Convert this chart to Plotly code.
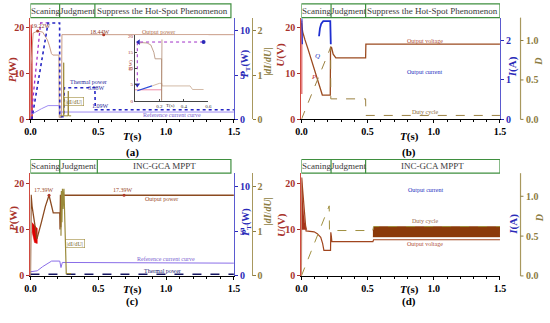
import plotly.graph_objects as go

W, H = 550, 323
def px(x): return x / W
def py(y): return 1 - y / H

FONT = "Liberation Serif"
C_LEFT = "#a8322b"
C_LEFT_LINE = "#d04a40"
C_BLUE = "#2a2ab8"
C_BLUE_LINE = "#5a5ad0"
C_OLIVE = "#8c7c42"
C_OLIVE_LINE = "#a8985e"
C_GREEN = "#3f8f3f"

# ------------------------------ data ------------------------------
# panel (a): P (W), P_T (W), |dI/dU|
a_red_t = [0.002, 0.004, 0.010, 0.013]
a_red_p = [0.0, 20.6, 15.0, 0.0]
a_pout_t = [0.0, 0.005, 0.02, 0.053, 0.09, 0.11, 0.125, 0.14, 0.155, 0.165, 0.21, 0.212, 0.228, 0.232, 1.5]
a_pout_p = [0.0, 12.0, 18.8, 19.22, 19.0, 18.0, 17.3, 16.0, 14.3, 14.0, 14.0, 0.4, 0.4, 18.44, 18.44]
a_ref_t = [0.0, 0.02, 0.08, 0.13, 0.21, 0.22, 1.5]
a_ref_p = [1.1, 1.3, 2.3, 3.0, 3.0, 1.6, 1.6]
a_mag_t = [0.003, 0.075, 0.13]
a_mag_p = [0.0, 21.0, 21.0]
a_pt_t = [0.01, 0.13, 0.215, 0.216, 0.245, 0.25, 0.475, 0.478, 1.5]
a_pt_v = [0.0, 10.9, 10.9, 0.3, 0.3, 3.58, 3.58, 1.09, 1.09]
a_didu_t = [0.215, 0.243, 0.245, 0.247, 0.277, 0.279, 0.281, 0.30]
a_didu_v = [0.08, 0.08, 1.28, 0.08, 0.08, 0.64, 0.08, 0.08]
a_mark_t = [0.053, 0.54]
a_mark_p = [19.22, 18.44]

# inset of (a)
in_brown_t = [0.02, 0.06, 0.10, 0.13, 0.155, 0.165, 0.218, 0.218, 0.221, 0.221]
in_brown_p = [17.8, 18.0, 17.9, 17.3, 15.0, 13.0, 13.0, 0.0, 0.0, 19.0]
in_dot_t = [0.02, 0.02, 0.56]
in_dot_p = [4.2, 18.2, 18.2]
in_blue_t = [0.02, 0.14]
in_blue_p = [3.1, 4.6]
in_tan_t = [0.14, 0.20, 0.22, 0.222, 0.45, 0.47, 0.56]
in_tan_p = [4.6, 5.4, 5.4, 4.6, 4.6, 3.5, 3.5]
in_pink_t = [0.0, 0.22]
in_pink_p = [3.4, 3.4]

# panel (b): U (V), I (A), D
b_red_t = [0.002, 0.002]
b_red_u = [5.5, 21.5]
b_uout_t = [0.0, 0.003, 0.01, 0.027, 0.05, 0.158, 0.218, 0.22, 0.228, 0.24, 0.26, 0.485, 0.487, 1.5]
b_uout_u = [21.0, 20.5, 19.0, 17.3, 15.3, 5.3, 5.3, 15.8, 15.6, 14.2, 13.4, 13.4, 16.4, 16.4]
b_i0_t = [0.002, 0.003, 0.006]
b_i0_i = [2.55, 2.2, 1.9]
b_iout_t = [0.133, 0.14, 0.15, 0.165, 0.218, 0.22, 0.222]
b_iout_i = [2.1, 2.3, 2.42, 2.48, 2.48, 2.3, 1.9]
b_duty_t = [0.0, 0.22, 0.222, 0.485, 0.487, 1.5]
b_duty_d = [0.0, 0.91, 0.26, 0.26, 0.05, 0.05]

# panel (c): P (W), P_T (W), |dI/dU|
c_pout_t = [0.0, 0.005, 0.012, 0.03, 0.048, 0.08, 0.11, 0.137, 0.15, 0.168, 0.216, 0.218, 0.221, 0.224, 0.227, 0.232, 0.236, 0.24, 0.25, 1.5]
c_pout_p = [0.0, 17.5, 15.0, 11.0, 8.0, 11.5, 15.0, 17.39, 16.0, 13.6, 13.6, 10.0, 17.5, 10.5, 17.0, 17.39, 17.0, 17.39, 17.39, 17.39]
c_red_t = [0.012, 0.05, 0.05, 0.03, 0.012]
c_red_p = [11.5, 10.2, 7.0, 7.2, 9.5]
c_ref_t = [0.0, 0.05, 0.09, 0.156, 0.216, 0.225, 0.235, 0.53, 0.54, 1.5]
c_ref_p = [0.9, 1.1, 2.0, 3.2, 3.2, 1.8, 2.9, 2.9, 2.75, 2.75]
c_pt_t = [0.0, 1.5]
c_pt_v = [0.18, 0.18]
c_didu_t = [0.225, 0.228, 0.232, 0.236, 0.24, 0.247, 0.264, 0.30]
c_didu_v = [0.9, 1.9, 1.2, 1.95, 1.5, 1.95, 0.05, 0.05]
c_mark_t = [0.137, 0.69]
c_mark_p = [17.39, 17.39]

# panel (d): U (V), I (A), D
d_red_t = [0.002, 0.008, 0.015, 0.025, 0.04, 0.002]
d_red_u = [21.2, 17.0, 14.0, 11.5, 10.0, 10.0]
d_uout_t = [0.0, 0.002, 0.035, 0.06, 0.096, 0.12, 0.146, 0.16, 0.17, 0.22, 0.222, 0.226, 0.23, 0.54, 0.545, 1.5]
d_uout_u = [0.0, 21.2, 9.7, 9.65, 9.5, 9.1, 8.3, 7.0, 5.5, 5.5, 9.4, 8.6, 7.4, 7.4, 7.8, 7.8]
d_duty_t = [0.0, 0.21, 0.212, 0.54, 0.545, 1.5]
d_duty_d = [0.0, 0.88, 0.57, 0.57, 0.62, 0.62]
d_band_t = [0.54, 0.55, 1.5, 1.5, 0.54]
d_band_d = [0.57, 0.62, 0.62, 0.49, 0.49]

# D-axis ticks (panels b and d)
D_TICKS = [0.0, 0.5, 1.0]
D_TICK_TEXT = ["0.0", "0.5", "1.0"]

# header boxes: (left edge, divider 1, divider 2, right edge)
hdr_a = [0.0, 0.215, 0.475, 1.478]
hdr_b = [0.0, 0.224, 0.485, 1.5]
hdr_c = [0.0, 0.216, 0.493, 1.478]
hdr_d = [0.0, 0.224, 0.485, 1.5]
hdr_txt_top = ["Scaning", "Judgment", "Suppress the Hot-Spot Phenomenon"]
hdr_txt_bot = ["Scaning", "Judgment", "INC-GCA MPPT"]

# ------------------------------ figure ------------------------------
fig = go.Figure()

def line(t, v, xa, ya, color, width=1.0, dash="solid", fill=None, fillcolor=None, mode="lines"):
    fig.add_trace(go.Scatter(x=t, y=v, xaxis=xa, yaxis=ya, mode=mode,
                             line=dict(color=color, width=width, dash=dash),
                             fill=fill, fillcolor=fillcolor, hoverinfo="skip", showlegend=False))

def marks(t, v, xa, ya, color, symbol="circle", size=3):
    fig.add_trace(go.Scatter(x=t, y=v, xaxis=xa, yaxis=ya, mode="markers",
                             marker=dict(color=color, size=size, symbol=symbol),
                             hoverinfo="skip", showlegend=False))

# (a)
line(a_red_t, a_red_p, "x", "y", "#d01818", 1.2)
line(a_pout_t, a_pout_p, "x", "y", "#c99c86", 1.0)
line(a_ref_t, a_ref_p, "x", "y", "#9f8cf2", 1.0)
line(a_mag_t, a_mag_p, "x", "y", "#a030c8", 1.3, "dot")
marks(a_mark_t, a_mark_p, "x", "y", "#b03a2a", size=3)
line(a_pt_t, a_pt_v, "x", "y2", "#2626c4", 1.6, "dot")
line(a_didu_t, a_didu_v, "x", "y3", "#a08c3c", 1.0)
# inset
line(in_pink_t, in_pink_p, "x5", "y13", "#f08aa8", 1.0)
line(in_tan_t, in_tan_p, "x5", "y13", "#c8a890", 0.8)
line(in_brown_t, in_brown_p, "x5", "y13", "#b08a72", 0.8)
line(in_blue_t, in_blue_p, "x5", "y13", "#2a4ad8", 1.2)
line(in_dot_t, in_dot_p, "x5", "y13", "#a030c8", 1.0, "dot")
marks([in_dot_t[1] + 0.01], [in_dot_p[1]], "x5", "y13", "#2a2ab8", "triangle-left", 5)
marks([in_dot_t[2]], [in_dot_p[2]], "x5", "y13", "#2a2ab8", "circle", 4)
marks([in_dot_t[0]], [in_dot_p[0] + 0.8], "x5", "y13", "#2a2ab8", "triangle-down", 5)

# (b)
line(b_red_t, b_red_u, "x2", "y4", "#d01818", 1.2)
line(b_uout_t, b_uout_u, "x2", "y4", "#9b4a1f", 1.3)
line(b_i0_t, b_i0_i, "x2", "y5", "#1f2fd0", 1.5)
line(b_iout_t, b_iout_i, "x2", "y5", "#1f2fd0", 1.8)
line(b_duty_t, b_duty_d, "x2", "y6", "#9a8040", 1.0, "dash")

# (c)
line(c_red_t, c_red_p, "x3", "y7", "#e00000", 0.5, fill="toself", fillcolor="#e00000")
line(c_ref_t, c_ref_p, "x3", "y7", "#8a6ee8", 1.0)
line(c_pout_t, c_pout_p, "x3", "y7", "#8b4a20", 1.3)
marks(c_mark_t, c_mark_p, "x3", "y7", "#b03a2a", size=3)
line(c_pt_t, c_pt_v, "x3", "y8", "#141460", 1.5, "dash")
line(c_didu_t, c_didu_v, "x3", "y9", "#9a8a3a", 1.2)

# (d)
line(d_red_t, d_red_u, "x4", "y10", "#a8321a", 0.5, fill="toself", fillcolor="#a8321a")
line(d_uout_t, d_uout_u, "x4", "y10", "#a0451e", 1.2)
line(d_band_t, d_band_d, "x4", "y12", "#8b3a0a", 0.5, fill="toself", fillcolor="#8b3a0a")
line(d_duty_t, d_duty_d, "x4", "y12", "#a09040", 1.0, "dash")

# ------------------------------ axes ------------------------------
TOP = [py(121), py(17)]
BOT = [py(281), py(176)]
XA = [px(25), px(233)]
XB = [px(302), px(505)]

def xax(dom, anchor):
    return dict(domain=dom, anchor=anchor, range=[0, 1.5], tickmode="linear", tick0=0, dtick=0.5,
                tickformat=".1f", showline=True, linecolor="black", linewidth=1,
                ticks="outside", ticklen=3, tickcolor="black",
                tickfont=dict(family=FONT, size=10, color="black", weight="bold"),
                showgrid=False, zeroline=False,
                minor=dict(ticks="outside", ticklen=2, dtick=0.1, tickcolor="black"))

def yax(dom, anchor, rng, dtick, color, lcolor, side="left", overlaying=None, position=None):
    d = dict(anchor=anchor, range=rng, tickmode="linear", tick0=0, dtick=dtick,
             showline=True, linecolor=lcolor, linewidth=1.2, ticks="outside", ticklen=3, tickcolor=color,
             tickfont=dict(family=FONT, size=10, color=color, weight="bold"),
             showgrid=False, zeroline=False, side=side)
    if dom is not None:
        d["domain"] = dom
    if overlaying:
        d["overlaying"] = overlaying
    if position is not None:
        d["position"] = position
    return d

def hidden_y(anchor, overlaying, rng):
    return dict(anchor=anchor, overlaying=overlaying, range=rng, side="right",
                showline=False, showticklabels=False, ticks="", showgrid=False, zeroline=False)

PR = [0, 22.15]
PTR = [0, 11.5]
DR3 = [0, 2.3]
IR = [0, 2.57]
DR = [0, 1.29]

layout = dict(
    width=W, height=H, margin=dict(l=0, r=0, t=0, b=0),
    paper_bgcolor="white", plot_bgcolor="white", showlegend=False,
    font=dict(family=FONT, color="black"),
    xaxis=xax(XA, "y"), xaxis2=xax(XB, "y4"), xaxis3=xax(XA, "y7"), xaxis4=xax(XB, "y10"),
    yaxis=yax(TOP, "x", PR, 10, C_LEFT, C_LEFT_LINE),
    yaxis2=yax(None, "x", PTR, 5, C_BLUE, C_BLUE_LINE, "right", "y"),
    yaxis3=yax(None, "free", DR3, 1, C_OLIVE, C_OLIVE_LINE, "right", "y", px(251)),
    yaxis4=yax(TOP, "x2", PR, 10, C_LEFT, C_LEFT_LINE),
    yaxis5=yax(None, "x2", IR, 1, C_BLUE, C_BLUE_LINE, "right", "y4"),
    yaxis6=hidden_y("x2", "y4", DR),
    yaxis7=yax(BOT, "x3", PR, 10, C_LEFT, C_LEFT_LINE),
    yaxis8=yax(None, "x3", PTR, 5, C_BLUE, C_BLUE_LINE, "right", "y7"),
    yaxis9=yax(None, "free", DR3, 1, C_OLIVE, C_OLIVE_LINE, "right", "y7", px(251)),
    yaxis10=yax(BOT, "x4", PR, 10, C_LEFT, C_LEFT_LINE),
    yaxis11=yax(None, "x4", IR, 1, C_BLUE, C_BLUE_LINE, "right", "y10"),
    yaxis12=hidden_y("x4", "y10", DR),
    xaxis5=dict(domain=[px(131.7), px(207)], anchor="y13", range=[0, 0.6], tickvals=[0.2, 0.4, 0.6],
                showline=True, linecolor="#444", linewidth=0.8, ticks="inside", ticklen=2,
                tickfont=dict(family=FONT, size=5, color="#333"), showgrid=False, zeroline=False),
    yaxis13=dict(domain=[py(102), py(35)], anchor="x5", range=[0, 20.3], tickvals=[0, 5, 10, 15, 20],
                 showline=True, linecolor="#444", linewidth=0.8, ticks="inside", ticklen=2,
                 tickfont=dict(family=FONT, size=5, color="#a8322b"), showgrid=False, zeroline=False),
)
fig.update_layout(**layout)

shapes = []
annotations = []

# ---- D axes (panels b and d): decoration drawn in paper space from the D scale ----
def d_axis(dom, xpix):
    def ypap(v):
        return dom[0] + (v - DR[0]) / (DR[1] - DR[0]) * (dom[1] - dom[0])
    shapes.append(dict(type="line", xref="paper", yref="paper", x0=px(xpix), x1=px(xpix),
                       y0=dom[0], y1=dom[1], line=dict(color=C_OLIVE_LINE, width=1.2)))
    for v, s in zip(D_TICKS, D_TICK_TEXT):
        shapes.append(dict(type="line", xref="paper", yref="paper", x0=px(xpix), x1=px(xpix + 3),
                           y0=ypap(v), y1=ypap(v), line=dict(color=C_OLIVE, width=1)))
        annotations.append(dict(xref="paper", yref="paper", x=px(xpix + 4), y=ypap(v), text=s,
                                showarrow=False, xanchor="left", yanchor="middle",
                                font=dict(family=FONT, size=10, color=C_OLIVE, weight="bold")))

d_axis(TOP, 526)
d_axis(BOT, 526)

# ------------------------------ header boxes ------------------------------
def header(xref, edges, y0px, y1px, texts):
    shapes.append(dict(type="rect", xref=xref, yref="paper", x0=edges[0], x1=edges[3],
                       y0=py(y1px), y1=py(y0px), line=dict(color=C_GREEN, width=1.2), fillcolor="rgba(0,0,0,0)"))
    for e in edges[1:3]:
        shapes.append(dict(type="line", xref=xref, yref="paper", x0=e, x1=e, y0=py(y1px), y1=py(y0px),
                           line=dict(color=C_GREEN, width=1.2)))
    for i, s in enumerate(texts):
        annotations.append(dict(xref=xref, yref="paper", x=(edges[i] + edges[i + 1]) / 2,
                                y=py((y0px + y1px) / 2), text=s, showarrow=False,
                                font=dict(family=FONT, size=9, color="#3a3a3a"),
                                xanchor="center", yanchor="middle"))

header("x", hdr_a, 3, 17, hdr_txt_top)
header("x2", hdr_b, 3, 17, hdr_txt_top)
header("x3", hdr_c, 162, 176, hdr_txt_bot)
header("x4", hdr_d, 162, 176, hdr_txt_bot)

def ann(x, y, s, xref="paper", yref="paper", size=6, color="#333", angle=0, bold=False, border=None, italic=False):
    d = dict(x=x, y=y, xref=xref, yref=yref, text=s, showarrow=False, textangle=angle,
             font=dict(family=FONT, size=size, color=color, weight="bold" if bold else "normal",
                       style="italic" if italic else "normal"),
             xanchor="center", yanchor="middle")
    if border:
        d["bordercolor"] = border
        d["borderwidth"] = 0.6
        d["borderpad"] = 1
    annotations.append(d)

# axis titles
ann(px(7), py(70), "<i>P</i>(W)", size=11, color=C_LEFT, angle=-90, bold=True)
ann(px(281), py(55), "<i>U</i>(V)", size=11, color=C_LEFT, angle=-90, bold=True)
ann(px(7), py(222), "<i>P</i>(W)", size=11, color=C_LEFT, angle=-90, bold=True)
ann(px(281), py(229), "<i>U</i>(V)", size=11, color=C_LEFT, angle=-90, bold=True)
ann(px(245), py(64), "<i>P</i><sub>T</sub>(W)", size=10, color=C_BLUE, angle=-90, bold=True)
ann(px(245), py(226), "<i>P</i><sub>T</sub>(W)", size=10, color=C_BLUE, angle=-90, bold=True)
ann(px(518), py(67), "<i>I</i>(A)", size=11, color=C_BLUE, angle=-90, bold=True)
ann(px(518), py(228), "<i>I</i>(A)", size=11, color=C_BLUE, angle=-90, bold=True)
ann(px(267), py(62), "|<i>dI</i>/<i>dU</i>|", size=10, color=C_OLIVE, angle=-90, bold=True)
ann(px(267), py(215), "|<i>dI</i>/<i>dU</i>|", size=10, color=C_OLIVE, angle=-90, bold=True)
ann(px(545), py(62), "<i>D</i>", size=10, color=C_OLIVE, angle=-90, bold=True)
ann(px(545), py(222), "<i>D</i>", size=10, color=C_OLIVE, angle=-90, bold=True)

for xc, yt, lab, yl in [(129, 139, "(a)", 155), (412, 139, "(b)", 155), (129, 295, "(c)", 307), (412, 295, "(d)", 307)]:
    ann(px(xc), py(yt), "<i>T</i>(s)", size=11, color="black", bold=True)
    ann(px(xc), py(yl), lab, size=11, color="black", bold=True)

# texts in (a)
ann(0.08, 20.4, "19.22W", "x", "y", 6, "#8b3a2a")
ann(0.515, 18.95, "18.44W", "x", "y", 6, "#8b3a2a")
ann(0.945, 19.1, "Output power", "x", "y", 6, "#b07050")
ann(0.43, 8.1, "Thermal power", "x", "y", 6, "#2a2a9a")
ann(0.49, 6.8, "3.58W", "x", "y", 6, "#2a2a9a")
ann(0.515, 3.0, "1.09W", "x", "y", 6, "#2a2a9a")
ann(1.04, 0.85, "Reference current curve", "x", "y", 6, "#7a62d0")
ann(0.32, 4.0, "|dI/dU|", "x", "y", 6, "#7a6a30", border="#a08c3c")
ann(px(168), py(107), "T(s)", size=5, color="#333")
ann(px(127), py(66), "P(W)", size=5, color="#a8322b", angle=-90)

# texts in (b)
ann(0.93, 17.0, "Output voltage", "x2", "y4", 6, "#b0503a")
ann(0.93, 10.4, "Output current", "x2", "y4", 6, "#2030c0")
ann(0.93, 1.7, "Duty cycle", "x2", "y4", 6, "#8a6a3a")
ann(0.096, 9.3, "P", "x2", "y4", 7, "#c03030", italic=True)
ann(0.12, 13.7, "Q", "x2", "y4", 7, "#2030c0", italic=True)

# texts in (c)
ann(0.10, 18.6, "17.39W", "x3", "y7", 6, "#9a4a2a")
ann(0.68, 18.6, "17.39W", "x3", "y7", 6, "#9a4a2a")
ann(0.966, 16.6, "Output power", "x3", "y7", 6, "#9a4a2a")
ann(1.0, 3.6, "Reference current curve", "x3", "y7", 6, "#7a62d0")
ann(0.97, 1.05, "Thermal power", "x3", "y7", 6, "#1a1a70")
ann(0.325, 7.0, "|dI/dU|", "x3", "y7", 6, "#7a6a30", border="#a08c3c")

# texts in (d)
ann(0.94, 18.6, "Output current", "x4", "y10", 6, "#2030c0")
ann(0.93, 11.9, "Duty cycle", "x4", "y10", 6, "#9a6a4a")
ann(0.93, 6.8, "Output voltage", "x4", "y10", 6, "#b0503a")

fig.update_layout(shapes=shapes, annotations=annotations)

# remove the default page margin so the 550x323 figure fills the window exactly
PAGE_FIX = ("document.documentElement.style.margin='0';document.body.style.margin='0';"
            "document.body.style.padding='0';document.documentElement.style.overflow='hidden';"
            "document.body.style.overflow='hidden';")
fig.write_html("out.html", post_script=PAGE_FIX, config={"displayModeBar": False})
